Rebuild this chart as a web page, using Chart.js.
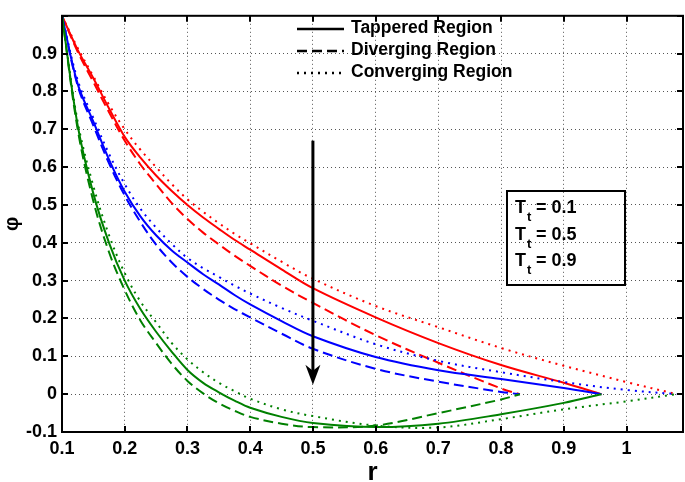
<!DOCTYPE html>
<html>
<head>
<meta charset="utf-8">
<script src="https://cdn.jsdelivr.net/npm/chart.js@4"></script>
<style>
  html, body { margin: 0; padding: 0; background: #fff; }
  #wrap { width: 685px; height: 482px; }
</style>
</head>
<body>
<div id="wrap"><canvas id="phiChart" width="685" height="482"></canvas></div>
<script>
// r values for each region (curves end at different r)
const rTapered = [0.1, 0.125, 0.15, 0.175, 0.2, 0.225, 0.25, 0.275, 0.3, 0.325, 0.35, 0.375, 0.4, 0.45, 0.5, 0.6, 0.7, 0.8, 0.9, 0.96];
const rDiverging = [0.1, 0.125, 0.15, 0.175, 0.2, 0.225, 0.25, 0.275, 0.3, 0.325, 0.35, 0.375, 0.4, 0.45, 0.5, 0.6, 0.7, 0.8, 0.83];
const rConverging = [0.1, 0.125, 0.15, 0.175, 0.2, 0.225, 0.25, 0.275, 0.3, 0.325, 0.35, 0.375, 0.4, 0.45, 0.5, 0.6, 0.7, 0.8, 0.9, 1.0, 1.08];

// phi, T_t = 0.1 (red)
const phiTapered01 = [1.0, 0.91, 0.835, 0.755, 0.68, 0.625, 0.578, 0.537, 0.50, 0.467, 0.437, 0.408, 0.382, 0.33, 0.28, 0.203, 0.135, 0.077, 0.03, 0];
const phiDiverging01 = [1.0, 0.905, 0.825, 0.745, 0.67, 0.607, 0.555, 0.505, 0.463, 0.427, 0.396, 0.366, 0.339, 0.287, 0.241, 0.156, 0.083, 0.015, 0];
const phiConverging01 = [1.0, 0.915, 0.84, 0.765, 0.70, 0.646, 0.60, 0.555, 0.515, 0.482, 0.452, 0.424, 0.399, 0.35, 0.305, 0.233, 0.177, 0.122, 0.075, 0.032, 0];

// phi, T_t = 0.5 (blue)
const phiTapered05 = [1.0, 0.82, 0.72, 0.62, 0.535, 0.47, 0.42, 0.38, 0.348, 0.317, 0.29, 0.262, 0.237, 0.193, 0.153, 0.098, 0.063, 0.04, 0.016, 0];
const phiDiverging05 = [1.0, 0.815, 0.71, 0.61, 0.525, 0.455, 0.395, 0.348, 0.31, 0.278, 0.25, 0.225, 0.203, 0.16, 0.12, 0.067, 0.033, 0.006, 0];
const phiConverging05 = [1.0, 0.83, 0.73, 0.635, 0.555, 0.49, 0.44, 0.397, 0.36, 0.333, 0.31, 0.287, 0.266, 0.228, 0.194, 0.132, 0.088, 0.058, 0.032, 0.011, 0];

// phi, T_t = 0.9 (green)
const phiTapered09 = [1.0, 0.71, 0.53, 0.40, 0.30, 0.225, 0.165, 0.112, 0.064, 0.03, 0.005, -0.017, -0.036, -0.06, -0.076, -0.087, -0.078, -0.053, -0.023, 0];
const phiDiverging09 = [1.0, 0.70, 0.51, 0.375, 0.275, 0.195, 0.135, 0.08, 0.035, 0.002, -0.024, -0.044, -0.06, -0.078, -0.087, -0.083, -0.05, -0.014, 0];
const phiConverging09 = [1.0, 0.72, 0.55, 0.42, 0.32, 0.245, 0.19, 0.135, 0.092, 0.058, 0.03, 0.008, -0.012, -0.04, -0.058, -0.083, -0.088, -0.066, -0.04, -0.019, 0];

const legendLabels = ["Tappered Region", "Diverging Region", "Converging Region"];
const ttLabels = ["0.1", "0.5", "0.9"];

// arrow showing increasing T_t
const arrowR = 0.5;
const arrowFrom = 0.67;
const arrowTo = 0.025;

const SOLID = [];
const DASHED = [10, 5];
const DOTTED = [2, 5];

function makeSet(label, rs, phis, color, dash) {
    return {
        label: label,
        data: rs.map((r, i) => ({ x: r, y: phis[i] })),
        borderColor: color,
        borderWidth: 2,
        borderDash: dash,
        pointRadius: 0,
        fill: false,
        tension: 0.35
    };
}

const datasets = [
    makeSet("Tapered 0.9", rTapered, phiTapered09, "#008000", SOLID),
    makeSet("Diverging 0.9", rDiverging, phiDiverging09, "#008000", DASHED),
    makeSet("Converging 0.9", rConverging, phiConverging09, "#008000", DOTTED),
    makeSet("Tapered 0.5", rTapered, phiTapered05, "#0000ff", SOLID),
    makeSet("Diverging 0.5", rDiverging, phiDiverging05, "#0000ff", DASHED),
    makeSet("Converging 0.5", rConverging, phiConverging05, "#0000ff", DOTTED),
    makeSet("Tapered 0.1", rTapered, phiTapered01, "#ff0000", SOLID),
    makeSet("Diverging 0.1", rDiverging, phiDiverging01, "#ff0000", DASHED),
    makeSet("Converging 0.1", rConverging, phiConverging01, "#ff0000", DOTTED)
];

const FONT = "'Liberation Sans', Arial, sans-serif";

function fmtTick(v) {
    const n = Math.round(v * 10) / 10;
    return String(n);
}

// frame, inward ticks, arrow, legend and T_t box (MATLAB style)
const extrasPlugin = {
    id: "extras",
    afterDraw(chart) {
        const ctx = chart.ctx;
        const { left, right, top, bottom } = chart.chartArea;
        const xs = chart.scales.x;
        const ys = chart.scales.y;
        ctx.save();
        ctx.setLineDash([]);
        ctx.strokeStyle = "#000";
        ctx.fillStyle = "#000";

        // arrow
        const ax = xs.getPixelForValue(arrowR);
        const ay1 = ys.getPixelForValue(arrowFrom);
        const ay2 = ys.getPixelForValue(arrowTo);
        ctx.lineWidth = 3;
        ctx.beginPath();
        ctx.moveTo(ax, ay1);
        ctx.lineTo(ax, ay2 - 12);
        ctx.stroke();
        ctx.beginPath();
        ctx.moveTo(ax, ay2);
        ctx.lineTo(ax - 7.5, ay2 - 20);
        ctx.lineTo(ax, ay2 - 14);
        ctx.lineTo(ax + 7.5, ay2 - 20);
        ctx.closePath();
        ctx.fill();

        // inward tick marks on all four sides
        ctx.lineWidth = 2;
        xs.ticks.forEach(t => {
            const px = Math.round(xs.getPixelForValue(t.value));
            ctx.beginPath();
            ctx.moveTo(px, bottom); ctx.lineTo(px, bottom - 6);
            ctx.moveTo(px, top); ctx.lineTo(px, top + 6);
            ctx.stroke();
        });
        ys.ticks.forEach(t => {
            const py = Math.round(ys.getPixelForValue(t.value));
            ctx.beginPath();
            ctx.moveTo(left, py); ctx.lineTo(left + 6, py);
            ctx.moveTo(right, py); ctx.lineTo(right - 6, py);
            ctx.stroke();
        });

        // frame
        ctx.lineWidth = 2;
        ctx.strokeRect(left, top, right - left, bottom - top);

        // legend
        const dashes = [SOLID, DASHED, DOTTED];
        ctx.font = "bold 17.5px " + FONT;
        ctx.textBaseline = "middle";
        ctx.textAlign = "left";
        legendLabels.forEach((lab, i) => {
            const y = 29 + i * 22;
            ctx.setLineDash(dashes[i]);
            ctx.lineWidth = 2.5;
            ctx.beginPath();
            ctx.moveTo(297, y);
            ctx.lineTo(344, y);
            ctx.stroke();
            ctx.setLineDash([]);
            ctx.fillText(lab, 351, y - 1);
        });

        // T_t box
        ctx.lineWidth = 2;
        ctx.strokeRect(507, 191, 118, 94);
        ctx.textBaseline = "alphabetic";
        ttLabels.forEach((v, i) => {
            const base = 213 + i * 26.7;
            ctx.font = "bold 18px " + FONT;
            ctx.fillText("T", 515, base);
            ctx.font = "bold 13px " + FONT;
            ctx.fillText("t", 527, base + 8);
            ctx.font = "bold 18px " + FONT;
            ctx.fillText("= " + v, 536, base);
        });

        ctx.restore();
    }
};

const ctx = document.getElementById("phiChart").getContext("2d");
new Chart(ctx, {
    type: "line",
    data: { datasets: datasets },
    options: {
        responsive: false,
        animation: false,
        layout: { padding: { top: 2, right: 2, left: 0, bottom: 0 } },
        plugins: {
            legend: { display: false },
            tooltip: { enabled: false }
        },
        scales: {
            x: {
                type: "linear",
                min: 0.1,
                max: 1.09,
                afterFit: s => { s.height = 50; },
                ticks: {
                    stepSize: 0.1,
                    includeBounds: false,
                    maxRotation: 0,
                    padding: 6,
                    color: "#000",
                    font: { family: FONT, size: 18, weight: "bold" },
                    callback: v => fmtTick(v)
                },
                grid: { color: "#555", lineWidth: 1, drawTicks: false },
                border: { display: true, color: "#000", width: 2, dash: [1, 3] },
                title: {
                    display: true,
                    text: "r",
                    color: "#000",
                    padding: { top: 0, bottom: -6 },
                    font: { family: FONT, size: 26, weight: "bold" }
                }
            },
            y: {
                type: "linear",
                min: -0.1,
                max: 1.0,
                afterFit: s => { s.width = 62; },
                ticks: {
                    stepSize: 0.1,
                    padding: 5,
                    color: "#000",
                    font: { family: FONT, size: 18, weight: "bold" },
                    callback: v => (v > 0.99 ? "" : fmtTick(v))
                },
                grid: { color: "#555", lineWidth: 1, drawTicks: false },
                border: { display: true, color: "#000", width: 2, dash: [1, 3] },
                title: {
                    display: true,
                    text: "φ",
                    color: "#000",
                    padding: { top: 0, bottom: 0 },
                    font: { family: FONT, size: 20, weight: "bold" }
                }
            }
        }
    },
    plugins: [extrasPlugin]
});
</script>
</body>
</html>
